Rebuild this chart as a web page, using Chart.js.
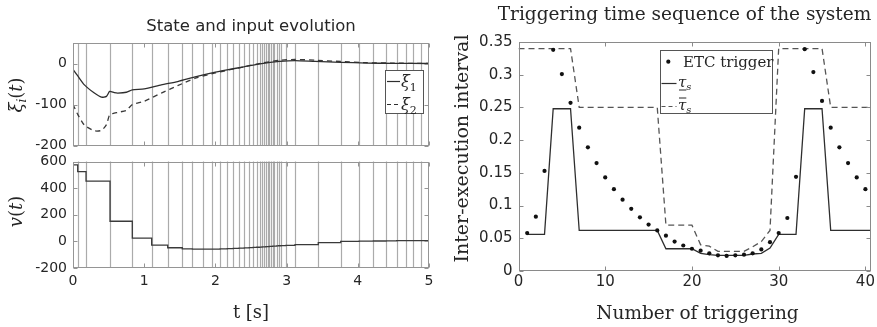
<!DOCTYPE html>
<html>
<head>
<meta charset="utf-8">
<script src="https://cdn.jsdelivr.net/npm/chart.js@4.4.1/dist/chart.umd.min.js"></script>
<style>
  html, body { margin: 0; padding: 0; background: #fff; }
  #wrap { position: relative; width: 877px; height: 327px; overflow: hidden; }
  canvas { position: absolute; }
</style>
</head>
<body>
<div id="wrap">
  <canvas id="stateChart" width="440" height="160" style="left:0;top:0;width:440px;height:160px"></canvas>
  <canvas id="inputChart" width="440" height="187" style="left:0;top:140px;width:440px;height:187px"></canvas>
  <canvas id="triggerChart" width="437" height="327" style="left:440px;top:0;width:437px;height:327px"></canvas>
</div>
<script>
// trigger instants (s) seen as grey vertical lines in the left panels
const triggerTimes = [0.066, 0.183, 0.52, 0.833, 1.105, 1.33, 1.535, 1.676, 1.83, 1.956, 2.065, 2.167,
  2.251, 2.331, 2.406, 2.476, 2.53, 2.58, 2.62, 2.655, 2.685, 2.71, 2.735, 2.758, 2.78, 2.805, 2.83,
  2.86, 2.89, 2.92, 2.99, 3.118, 3.445, 3.76, 4.017, 4.218, 4.396, 4.546, 4.677, 4.78, 4.888];

// states xi_1, xi_2
const stateTime = [0, 0.07, 0.16, 0.3, 0.4, 0.47, 0.515, 0.58, 0.63, 0.75, 0.833, 1.0, 1.24, 1.47, 1.73,
  2.0, 2.18, 2.4, 2.65, 2.9, 3.12, 3.4, 3.76, 4.13, 4.5, 5.0];
const xi1 = [-14, -31, -52, -72, -82, -80, -68, -71, -72, -70, -64, -62, -52, -44, -32,
  -21, -15, -8, 0, 5, 7, 5, 3, 1, 0.5, 0];
const xi2 = [-100, -125, -150, -164, -163, -149, -125, -121, -119, -114, -100, -92, -72, -54, -35,
  -23, -16, -8, 1, 8, 10, 8, 5, 2, 1, 0];

// input v(t), held from t=0 and from each trigger instant
const inputValues = [575, 524, 453, 151, 25, -28, -48, -57, -58, -58, -58, -57, -55, -53, -51, -49,
  -47, -45, -44, -43, -42, -41, -40, -39, -38, -37, -36, -35, -34, -33, -32, -30, -25, -10, 0, 2, 3,
  4, 5, 5, 5, 5];

// right panel: inter-execution intervals per triggering
const etcInterval = [0.058, 0.083, 0.153, 0.338, 0.301, 0.257, 0.219, 0.189, 0.165, 0.143, 0.125,
  0.109, 0.095, 0.082, 0.071, 0.062, 0.054, 0.045, 0.039, 0.034, 0.031, 0.027, 0.024, 0.023, 0.024,
  0.025, 0.027, 0.033, 0.044, 0.058, 0.081, 0.144, 0.339, 0.304, 0.26, 0.219, 0.189, 0.165, 0.143, 0.125];
const lowerN = [1, 3, 4, 6, 7, 16, 17, 20, 21, 22, 23, 26, 27, 28, 29, 30, 32, 33, 35, 36, 41];
const lowerTau = [0.056, 0.056, 0.248, 0.248, 0.062, 0.062, 0.034, 0.034, 0.027, 0.025, 0.024, 0.024,
  0.026, 0.027, 0.035, 0.056, 0.056, 0.248, 0.248, 0.062, 0.062];
const upperN = [0, 6, 7, 16, 17, 20, 21, 22, 23, 26, 27, 28, 29, 30, 35, 36, 41];
const upperTau = [0.34, 0.34, 0.25, 0.25, 0.07, 0.07, 0.04, 0.038, 0.03, 0.03, 0.037, 0.045, 0.062,
  0.34, 0.34, 0.25, 0.25];

const SANS = '"DejaVu Sans", sans-serif';
const SERIF = '"DejaVu Serif", serif';
const TXT = '#262626';

function pts(xs, ys) { return xs.map((x, i) => ({ x: x, y: ys[i] })); }
function fixedTicks(list) { return s => { s.ticks = list.map(v => ({ value: v })); }; }

// draws pieces of text one after the other (for sub/sup scripts)
function drawParts(ctx, parts, x, y, align) {
  ctx.textAlign = 'left';
  ctx.textBaseline = 'alphabetic';
  let w = 0;
  parts.forEach(p => { ctx.font = p.font; p.w = ctx.measureText(p.text).width; w += p.w; });
  let cx = align === 'center' ? x - w / 2 : x;
  parts.forEach(p => {
    ctx.font = p.font;
    ctx.fillText(p.text, cx, y + (p.dy || 0));
    if (p.deco) {
      const ly = p.deco === 'under' ? y + 3 : y - 12;
      ctx.beginPath(); ctx.moveTo(cx + 1, ly); ctx.lineTo(cx + p.w, ly);
      ctx.lineWidth = 1; ctx.strokeStyle = ctx.fillStyle; ctx.stroke();
    }
    cx += p.w;
  });
}

function hline(ctx, x1, x2, y, dash) {
  ctx.save();
  ctx.setLineDash(dash || []);
  ctx.beginPath(); ctx.moveTo(x1, y); ctx.lineTo(x2, y); ctx.stroke();
  ctx.restore();
}

// box frame with inward tick marks, like the matlab axes
function framePlugin(color) {
  return {
    id: 'frame',
    afterDatasetsDraw(chart) {
      const { ctx, chartArea: a, scales } = chart;
      ctx.save();
      ctx.strokeStyle = color;
      ctx.lineWidth = 1;
      const L = Math.round(a.left) + 0.5, R = Math.round(a.right) - 0.5;
      const T = Math.round(a.top) + 0.5, B = Math.round(a.bottom) - 0.5;
      ctx.strokeRect(L, T, R - L, B - T);
      ctx.beginPath();
      scales.x.ticks.forEach(t => {
        const px = Math.round(scales.x.getPixelForValue(t.value)) + 0.5;
        ctx.moveTo(px, B); ctx.lineTo(px, B - 4);
        ctx.moveTo(px, T); ctx.lineTo(px, T + 4);
      });
      scales.y.ticks.forEach(t => {
        const py = Math.round(scales.y.getPixelForValue(t.value)) + 0.5;
        ctx.moveTo(L, py); ctx.lineTo(L + 4, py);
        ctx.moveTo(R, py); ctx.lineTo(R - 4, py);
      });
      ctx.stroke();
      ctx.restore();
    }
  };
}

function triggerLinesPlugin(times) {
  return {
    id: 'triggerLines',
    beforeDatasetsDraw(chart) {
      const { ctx, chartArea: a, scales: { x } } = chart;
      ctx.save();
      ctx.strokeStyle = '#ababab';
      ctx.lineWidth = 1.2;
      ctx.beginPath();
      times.forEach(t => {
        const px = Math.round(x.getPixelForValue(t)) + 0.5;
        ctx.moveTo(px, a.top); ctx.lineTo(px, a.bottom);
      });
      ctx.stroke();
      ctx.restore();
    }
  };
}

function textPlugin(draw) {
  return { id: 'texts', afterDraw(chart) { const ctx = chart.ctx; ctx.save(); ctx.fillStyle = TXT; draw(ctx); ctx.restore(); } };
}

function baseOptions(padding) {
  return {
    responsive: false,
    animation: false,
    devicePixelRatio: 1,
    events: [],
    layout: { padding: padding },
    plugins: { legend: { display: false }, tooltip: { enabled: false }, title: { display: false } }
  };
}

function leftY(min, max, tickList) {
  return {
    type: 'linear', min: min, max: max,
    afterBuildTicks: fixedTicks(tickList),
    ticks: { font: { family: SANS, size: 14 }, color: TXT, padding: 6 },
    grid: { display: false, drawTicks: false }, border: { display: false },
    afterFit: s => { s.width = 73; }
  };
}

// ---- state chart ----
const stateOpts = baseOptions({ top: 43, right: 11, left: 0, bottom: 0 });
stateOpts.scales = {
  x: { type: 'linear', min: 0, max: 5, afterBuildTicks: fixedTicks([0, 1, 2, 3, 4, 5]),
       ticks: { display: false }, grid: { display: false, drawTicks: false }, border: { display: false },
       afterFit: s => { s.height = 14; } },
  y: leftY(-200, 50, [-200, -100, 0])
};
new Chart(document.getElementById('stateChart'), {
  type: 'line',
  data: { datasets: [
    { data: pts(stateTime, xi1), borderColor: '#2e2e2e', borderWidth: 1.3, pointRadius: 0, tension: 0.2 },
    { data: pts(stateTime, xi2), borderColor: '#3a3a3a', borderWidth: 1.3, borderDash: [5, 4], pointRadius: 0, tension: 0.2 }
  ] },
  options: stateOpts,
  plugins: [triggerLinesPlugin(triggerTimes), framePlugin('#959595'), textPlugin(ctx => {
    ctx.font = '16.5px ' + SANS; ctx.textAlign = 'center'; ctx.textBaseline = 'alphabetic';
    ctx.fillText('State and input evolution', 251, 31);
    ctx.save();
    ctx.translate(22, 95); ctx.rotate(-Math.PI / 2);
    drawParts(ctx, [
      { text: 'ξ', font: 'italic 18px ' + SERIF },
      { text: 'i', font: 'italic 12px ' + SERIF, dy: 4 },
      { text: '(', font: '18px ' + SERIF },
      { text: 't', font: 'italic 18px ' + SERIF },
      { text: ')', font: '18px ' + SERIF }
    ], 0, 0, 'center');
    ctx.restore();
    // legend
    ctx.fillStyle = '#fff'; ctx.fillRect(385, 70, 39, 43);
    ctx.strokeStyle = '#555'; ctx.lineWidth = 1; ctx.strokeRect(385.5, 70.5, 38, 43);
    ctx.strokeStyle = '#2e2e2e'; ctx.lineWidth = 1.2;
    hline(ctx, 387, 400, 81.5);
    hline(ctx, 387, 400, 104.5, [4, 3]);
    ctx.fillStyle = TXT;
    drawParts(ctx, [{ text: 'ξ', font: 'italic 16px ' + SERIF }, { text: '1', font: '11px ' + SERIF, dy: 4 }], 401, 87);
    drawParts(ctx, [{ text: 'ξ', font: 'italic 16px ' + SERIF }, { text: '2', font: '11px ' + SERIF, dy: 4 }], 401, 110);
  })]
});

// ---- input chart ----
const inputTimes = [0].concat(triggerTimes, [5]);
const inputSteps = inputValues.concat([inputValues[inputValues.length - 1]]);
const inputOpts = baseOptions({ top: 21.5, right: 11, left: 0, bottom: 0 });
inputOpts.scales = {
  x: { type: 'linear', min: 0, max: 5, afterBuildTicks: fixedTicks([0, 1, 2, 3, 4, 5]),
       ticks: { font: { family: SANS, size: 14 }, color: TXT, padding: 5, maxRotation: 0 },
       grid: { display: false, drawTicks: false }, border: { display: false },
       afterFit: s => { s.height = 59; } },
  y: leftY(-200, 600, [-200, 0, 200, 400, 600])
};
new Chart(document.getElementById('inputChart'), {
  type: 'line',
  data: { datasets: [
    { data: pts(inputTimes, inputSteps), stepped: 'before', borderColor: '#3a3a3a', borderWidth: 1.3, pointRadius: 0 }
  ] },
  options: inputOpts,
  plugins: [triggerLinesPlugin(triggerTimes), framePlugin('#959595'), textPlugin(ctx => {
    drawParts(ctx, [{ text: 't [s]', font: '18px ' + SERIF }], 251, 178, 'center');
    ctx.save();
    ctx.translate(22, 71.5); ctx.rotate(-Math.PI / 2);
    drawParts(ctx, [
      { text: 'v', font: 'italic 18px ' + SERIF },
      { text: '(', font: '18px ' + SERIF },
      { text: 't', font: 'italic 18px ' + SERIF },
      { text: ')', font: '18px ' + SERIF }
    ], 0, 0, 'center');
    ctx.restore();
  })]
});

// ---- trigger interval chart ----
const triggerNumbers = etcInterval.map((v, i) => i + 1);
const trigOpts = baseOptions({ top: 42, right: 4, left: 0, bottom: 0 });
trigOpts.scales = {
  x: { type: 'linear', min: 0, max: 40.6, afterBuildTicks: fixedTicks([0, 10, 20, 30, 40]),
       ticks: { font: { family: SANS, size: 15 }, color: TXT, padding: 2, maxRotation: 0 },
       grid: { display: false, drawTicks: false }, border: { display: false },
       afterFit: s => { s.height = 56; } },
  y: { type: 'linear', min: 0, max: 0.35,
       afterBuildTicks: fixedTicks([0, 0.05, 0.1, 0.15, 0.2, 0.25, 0.3, 0.35]),
       ticks: { font: { family: SANS, size: 15 }, color: TXT, padding: 6, callback: v => String(+v.toFixed(2)) },
       grid: { display: false, drawTicks: false }, border: { display: false },
       afterFit: s => { s.width = 78.5; } }
};
new Chart(document.getElementById('triggerChart'), {
  type: 'line',
  data: { datasets: [
    { data: pts(triggerNumbers, etcInterval), showLine: false, pointRadius: 2.1, pointBorderWidth: 0,
      pointBackgroundColor: '#111', borderColor: '#111' },
    { data: pts(lowerN, lowerTau), borderColor: '#2e2e2e', borderWidth: 1.3, pointRadius: 0 },
    { data: pts(upperN, upperTau), borderColor: '#555', borderWidth: 1.3, borderDash: [6, 4], pointRadius: 0 }
  ] },
  options: trigOpts,
  plugins: [framePlugin('#8a8a8a'), textPlugin(ctx => {
    drawParts(ctx, [{ text: 'Triggering time sequence of the system', font: '18.5px ' + SERIF }], 244.5, 20, 'center');
    drawParts(ctx, [{ text: 'Number of triggering', font: '18.5px ' + SERIF }], 257.5, 319, 'center');
    ctx.save();
    ctx.translate(28, 148.5); ctx.rotate(-Math.PI / 2);
    drawParts(ctx, [{ text: 'Inter-execution interval', font: '19px ' + SERIF }], 0, 0, 'center');
    ctx.restore();
    // legend
    ctx.fillStyle = '#fff'; ctx.fillRect(220, 50, 113, 64);
    ctx.strokeStyle = '#555'; ctx.lineWidth = 1; ctx.strokeRect(220.5, 50.5, 112, 63);
    ctx.fillStyle = '#111';
    ctx.beginPath(); ctx.arc(228.3, 61.7, 2.1, 0, Math.PI * 2); ctx.fill();
    ctx.fillStyle = TXT;
    drawParts(ctx, [{ text: 'ETC trigger', font: '15px ' + SERIF }], 243, 67);
    ctx.strokeStyle = '#2e2e2e'; ctx.lineWidth = 1.2;
    hline(ctx, 221.5, 236.5, 83.5);
    ctx.strokeStyle = '#555';
    hline(ctx, 221.5, 236.5, 106.5, [4, 3]);
    ctx.fillStyle = TXT;
    drawParts(ctx, [{ text: 'τ', font: 'italic 15px ' + SERIF, deco: 'under' }, { text: 's', font: 'italic 10px ' + SERIF, dy: 3 }], 238, 87);
    drawParts(ctx, [{ text: 'τ', font: 'italic 15px ' + SERIF, deco: 'over' }, { text: 's', font: 'italic 10px ' + SERIF, dy: 3 }], 238, 110);
  })]
});
</script>
</body>
</html>
